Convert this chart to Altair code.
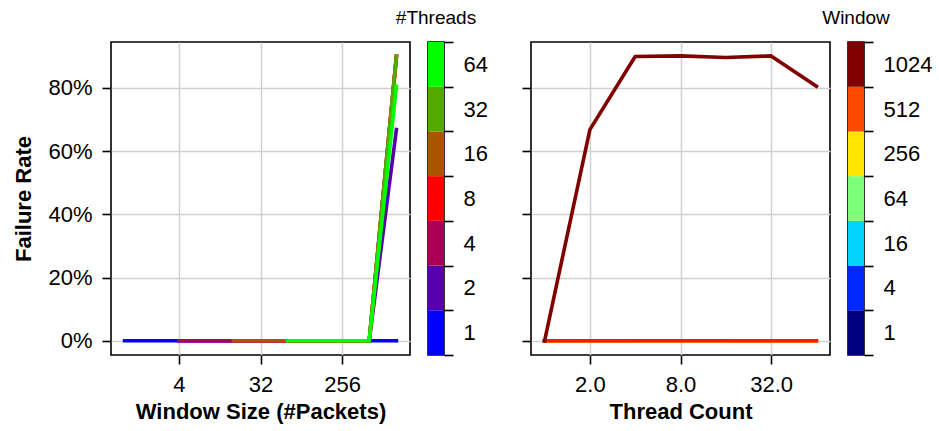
import altair as alt
import pandas as pd

# ---------------- data ----------------
threads = [1, 2, 4, 8, 16, 32, 64]
windows = [1, 4, 16, 64, 256, 512, 1024]
# failure rate[thread][window]; None = combination not measured (window < threads)
failure_rate = [
    [0.0, 0.0, 0.0, 0.0, 0.0, 0.0, 0.0],      # 1 thread
    [None, 0.0, 0.0, 0.0, 0.0, 0.0, 0.668],   # 2
    [None, 0.0, 0.0, 0.0, 0.0, 0.0, 0.899],   # 4
    [None, None, 0.0, 0.0, 0.0, 0.0, 0.901],  # 8
    [None, None, 0.0, 0.0, 0.0, 0.0, 0.896],  # 16
    [None, None, None, 0.0, 0.0, 0.0, 0.901], # 32
    [None, None, None, 0.0, 0.0, 0.0, 0.805], # 64
]
thread_labels = ["1", "2", "4", "8", "16", "32", "64"]
window_labels = ["1", "4", "16", "64", "256", "512", "1024"]
thread_colors = ["#0000ff", "#5500aa", "#aa0055", "#ff0000", "#aa5500", "#55aa00", "#00ff00"]
window_line_colors = ["#000080", "#004cff", "#29ffce", "#ceff29", "#ff6800", "#ff1a00", "#800000"]
window_bar_colors = ["#000080", "#0028ff", "#00d4ff", "#7dff7a", "#ffe500", "#ff4a00", "#800000"]
window_ticks = [4, 32, 256]
thread_ticks = [2, 8, 32]
rate_ticks = [0, 0.2, 0.4, 0.6, 0.8]

rows = []
for i, t in enumerate(threads):
    for j, w in enumerate(windows):
        r = failure_rate[i][j]
        if r is not None:
            rows.append({"threads": t, "window": w, "rate": r})
df = pd.DataFrame(rows)

FONT = "Liberation Sans"
PW, PH = 299, 313
CBW = 16
LW = 3.6

y_scale = alt.Scale(domain=[-0.045, 0.945], nice=False, zero=False)

def left_layer(t, c):
    return (
        alt.Chart(df)
        .transform_filter(alt.datum.threads == t)
        .mark_line(color=c, strokeWidth=LW, clip=True, strokeCap="square", strokeJoin="round")
        .encode(
            x=alt.X("window:Q",
                    scale=alt.Scale(type="log", base=2, domain=[2 ** -0.5, 2 ** 10.5], nice=False),
                    axis=alt.Axis(values=window_ticks, format="d", title="Window Size (#Packets)",
                                  titlePadding=6)),
            y=alt.Y("rate:Q", scale=y_scale,
                    axis=alt.Axis(values=rate_ticks, format=".0%", title="Failure Rate",
                                  titlePadding=12)),
            order=alt.Order("window:Q"),
        )
    )

left = alt.layer(*[left_layer(t, c) for t, c in zip(threads, thread_colors)]).properties(
    width=PW, height=PH)

def right_layer(w, c):
    return (
        alt.Chart(df)
        .transform_filter(alt.datum.window == w)
        .mark_line(color=c, strokeWidth=LW, clip=True, strokeCap="square", strokeJoin="round")
        .encode(
            x=alt.X("threads:Q",
                    scale=alt.Scale(type="log", base=2, domain=[2 ** -0.3, 2 ** 6.3], nice=False),
                    axis=alt.Axis(values=thread_ticks, format=".1f", title="Thread Count",
                                  titlePadding=6)),
            y=alt.Y("rate:Q", scale=y_scale,
                    axis=alt.Axis(values=rate_ticks, labels=False, title=None)),
            order=alt.Order("threads:Q"),
        )
    )

right = alt.layer(*[right_layer(w, c) for w, c in zip(windows, window_line_colors)]).properties(
    width=PW, height=PH)

def colorbar(labels, colors, title):
    cdf = pd.DataFrame({"label": labels})
    bar = (
        alt.Chart(cdf)
        .mark_rect()
        .encode(
            x=alt.value(0),
            x2=alt.value(CBW),
            y=alt.Y("label:N", sort=list(reversed(labels)),
                    scale=alt.Scale(paddingInner=0, paddingOuter=0),
                    axis=alt.Axis(orient="right", title=None, tickBand="extent", grid=False,
                                  labelPadding=10, labelAngle=0)),
            color=alt.Color("label:N", scale=alt.Scale(domain=labels, range=colors), legend=None),
        )
    )
    head = (
        alt.Chart(pd.DataFrame({"t": [title]}))
        .mark_text(font=FONT, fontSize=19, color="black", align="center", baseline="alphabetic")
        .encode(text="t:N", x=alt.value(CBW / 2), y=alt.value(-18))
    )
    return alt.layer(bar, head).properties(width=CBW, height=PH)

cb_threads = colorbar(thread_labels, thread_colors, "#Threads")
cb_windows = colorbar(window_labels, window_bar_colors, "Window")

spacer = (
    alt.Chart(pd.DataFrame({"a": [0]}))
    .mark_point(opacity=0)
    .encode(x=alt.value(0), y=alt.value(0))
    .properties(width=51, height=PH, view=alt.ViewBackground(stroke="transparent"))
)

chart = (
    alt.hconcat(left, cb_threads, spacer, right, cb_windows, spacing=18, bounds="flush")
    .resolve_scale(color="independent", y="independent", x="independent")
    .properties(padding={"left": 12, "top": 8, "right": 2, "bottom": 2}, background="white")
    .configure_axis(
        labelFont=FONT, labelFontSize=22, labelColor="black",
        titleFont=FONT, titleFontSize=22, titleFontWeight="bold", titleColor="black",
        tickColor="black", tickWidth=1.6, tickSize=9, labelPadding=10,
        domain=False, gridColor="#d0d0d0", gridWidth=1.5,
    )
    .configure_view(stroke="black", strokeWidth=1.6)
)

chart.save("out.html", embed_options={"renderer": "svg", "actions": False})
